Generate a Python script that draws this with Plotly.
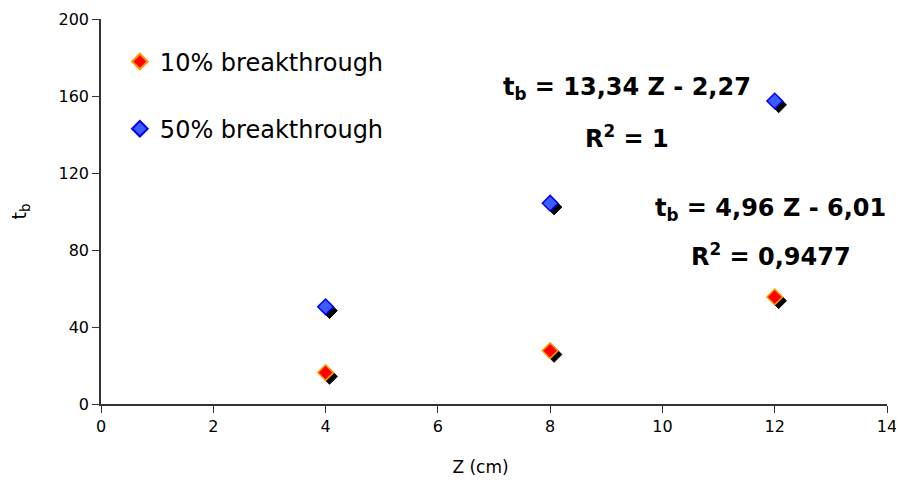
import plotly.graph_objects as go

z = [4, 8, 12]
tb_10 = [16.3, 27.7, 55.6]
tb_50 = [50.5, 104.3, 157.4]
x_ticks = [0, 2, 4, 6, 8, 10, 12, 14]
y_ticks = [0, 40, 80, 120, 160, 200]

FONT = "DejaVu Sans"
dx, dy = 0.07, 2.0

fig = go.Figure()
for ys in (tb_10, tb_50):
    fig.add_trace(go.Scatter(
        x=[v + dx for v in z], y=[v - dy for v in ys], mode="markers",
        marker=dict(symbol="diamond", size=12, color="black",
                    line=dict(color="black", width=1)),
        showlegend=False, hoverinfo="skip"))
fig.add_trace(go.Scatter(
    x=z, y=tb_10, mode="markers", name="10% breakthrough", legendgroup="a",
    marker=dict(symbol="diamond", size=12, color="#FF0000",
                line=dict(color="#FF9900", width=1.5))))
fig.add_trace(go.Scatter(
    x=z, y=tb_50, mode="markers", name="50% breakthrough", legendgroup="b",
    marker=dict(symbol="diamond", size=12, color="#3D5CFF",
                line=dict(color="#0000FF", width=1.5))))

axis_common = dict(showline=True, linecolor="#333333", linewidth=1.5,
                   ticks="outside", ticklen=7, tickcolor="#333333",
                   showgrid=False, zeroline=False, automargin=False,
                   tickfont=dict(family=FONT, size=16, color="black"))
fig.update_xaxes(range=[0, 14], tickvals=x_ticks,
                 title=dict(text="Z (cm)" + "&nbsp;" * 5,
                            font=dict(family=FONT, size=17, color="black"), standoff=26),
                 **axis_common)
fig.update_yaxes(range=[0, 200], tickvals=y_ticks,
                 title=dict(text="t<sub>b</sub>", font=dict(family=FONT, size=19, color="black"), standoff=38),
                 **axis_common)

# page has an 8px body margin: plot area target in window px is x 101..887, y 19..404
OFF = 8
L, R, T, B = 101, 887, 19, 404
ann_font = dict(family=FONT, size=24, color="black", weight="bold")
for text, xp, yp in [
    ("t<sub>b</sub> = 13,34 Z - 2,27", 627, 89),
    ("R<sup>2</sup> = 1", 627, 137),
    ("t<sub>b</sub> = 4,96 Z - 6,01", 770, 209),
    ("R<sup>2</sup> = 0,9477", 771, 255),
]:
    fig.add_annotation(text=text, xref="paper", yref="paper",
                       x=(xp - L) / (R - L), y=(B - yp) / (B - T),
                       showarrow=False, font=ann_font,
                       xanchor="center", yanchor="middle")

fig.update_layout(
    width=904 - OFF, height=499 - OFF,
    margin=dict(l=L - OFF, r=904 - R, t=T - OFF, b=499 - B),
    paper_bgcolor="white", plot_bgcolor="white",
    legend=dict(x=0.024, y=0.947, xanchor="left", yanchor="top",
                bgcolor="rgba(0,0,0,0)", tracegroupgap=33,
                font=dict(family=FONT, size=24, color="black"),
                itemsizing="constant"),
)
fig.write_html("out.html")
